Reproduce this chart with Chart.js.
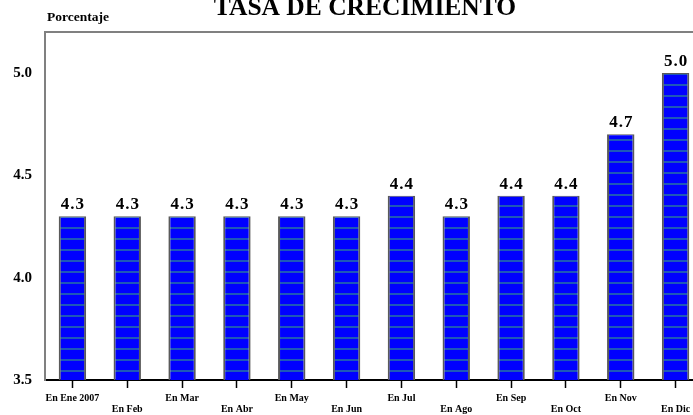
<!DOCTYPE html>
<html>
<head>
<meta charset="utf-8">
<script src="https://cdn.jsdelivr.net/npm/chart.js@4/dist/chart.umd.min.js"></script>
<style>
  html, body { margin: 0; padding: 0; background: #fff; overflow: hidden; }
  canvas { display: block; }
</style>
</head>
<body>
<canvas id="chart" width="703" height="415"></canvas>
<script>
// Tasa de crecimiento mensual (porcentaje)
const MONTHS = ['En Ene 2007', 'En Feb', 'En Mar', 'En Abr', 'En May', 'En Jun',
                'En Jul', 'En Ago', 'En Sep', 'En Oct', 'En Nov', 'En Dic'];
const RATES  = [4.3, 4.3, 4.3, 4.3, 4.3, 4.3, 4.4, 4.3, 4.4, 4.4, 4.7, 5.0];
const Y_TICKS = [3.5, 4.0, 4.5, 5.0];

const TITLE    = 'TASA DE CRECIMIENTO';
const Y_TITLE  = 'Porcentaje';
const SERIF    = "'Liberation Serif', 'Times New Roman', serif";

const BAR_BLUE    = '#0000ff';
const STRIPE_BLUE = '#1e58b8';
const FRAME_GRAY  = '#808080';

// labels alternate between two rows
const xLabels = MONTHS.map((m, i) => (i % 2 === 0 ? [m] : ['', m]));

// horizontal stripe fill for the bars
function stripePattern() {
  const tile = document.createElement('canvas');
  tile.width = 4;
  tile.height = 11;
  const t = tile.getContext('2d');
  t.fillStyle = BAR_BLUE;
  t.fillRect(0, 0, 4, 11);
  t.fillStyle = STRIPE_BLUE;
  t.fillRect(0, 7, 4, 2);
  return t.createPattern(tile, 'repeat');
}

const ctx = document.getElementById('chart').getContext('2d');

const decorPlugin = {
  id: 'decor',
  afterDraw(chart) {
    const { ctx, chartArea } = chart;
    ctx.save();

    // top frame line
    ctx.strokeStyle = FRAME_GRAY;
    ctx.lineWidth = 2;
    ctx.beginPath();
    ctx.moveTo(chartArea.left, chartArea.top);
    ctx.lineTo(chartArea.right, chartArea.top);
    ctx.stroke();

    // value labels above bars
    ctx.fillStyle = '#000';
    ctx.font = `bold 17px ${SERIF}`;
    ctx.letterSpacing = '1px';
    ctx.textAlign = 'center';
    ctx.textBaseline = 'alphabetic';
    const meta = chart.getDatasetMeta(0);
    meta.data.forEach((bar, i) => {
      ctx.fillText(RATES[i].toFixed(1), bar.x + 0.5, bar.y - 7);
    });

    // titles
    ctx.letterSpacing = '0px';
    ctx.font = `bold 25.5px ${SERIF}`;
    ctx.fillText(TITLE, 365, 15);
    ctx.textAlign = 'left';
    ctx.font = `bold 13.5px ${SERIF}`;
    ctx.fillText(Y_TITLE, 47, 21);

    ctx.restore();
  },
};

new Chart(ctx, {
  type: 'bar',
  data: {
    labels: xLabels,
    datasets: [{
      data: RATES,
      backgroundColor: stripePattern(),
      borderColor: '#5a5a5a',
      borderWidth: { left: 2, right: 2, top: 1, bottom: 0 },
      borderSkipped: 'bottom',
      categoryPercentage: 1,
      barPercentage: 0.5,
    }],
  },
  options: {
    responsive: false,
    animation: false,
    layout: { padding: { top: 32, right: 0, bottom: 0, left: 0 } },
    plugins: {
      legend: { display: false },
      tooltip: { enabled: false },
    },
    scales: {
      x: {
        offset: true,
        grid: {
          display: true,
          drawOnChartArea: false,
          drawTicks: true,
          tickLength: 8,
          tickWidth: 1.5,
          tickColor: '#000',
          offset: false,
        },
        border: { color: '#000', width: 2 },
        ticks: {
          autoSkip: false,
          maxRotation: 0,
          minRotation: 0,
          padding: 5,
          color: '#000',
          font: { family: SERIF, size: 10, weight: 'bold', lineHeight: 1.1 },
        },
        afterFit(scale) { scale.height = 35; },
      },
      y: {
        min: 3.5,
        max: 5.2,
        afterBuildTicks(scale) { scale.ticks = Y_TICKS.map(v => ({ value: v })); },
        grid: { display: false, drawTicks: false },
        border: { color: FRAME_GRAY, width: 2 },
        ticks: {
          padding: 13,
          color: '#000',
          font: { family: SERIF, size: 15, weight: 'bold' },
          callback: v => v.toFixed(1),
        },
        afterFit(scale) { scale.width = 45; },
      },
    },
  },
  plugins: [decorPlugin],
});
</script>
</body>
</html>
